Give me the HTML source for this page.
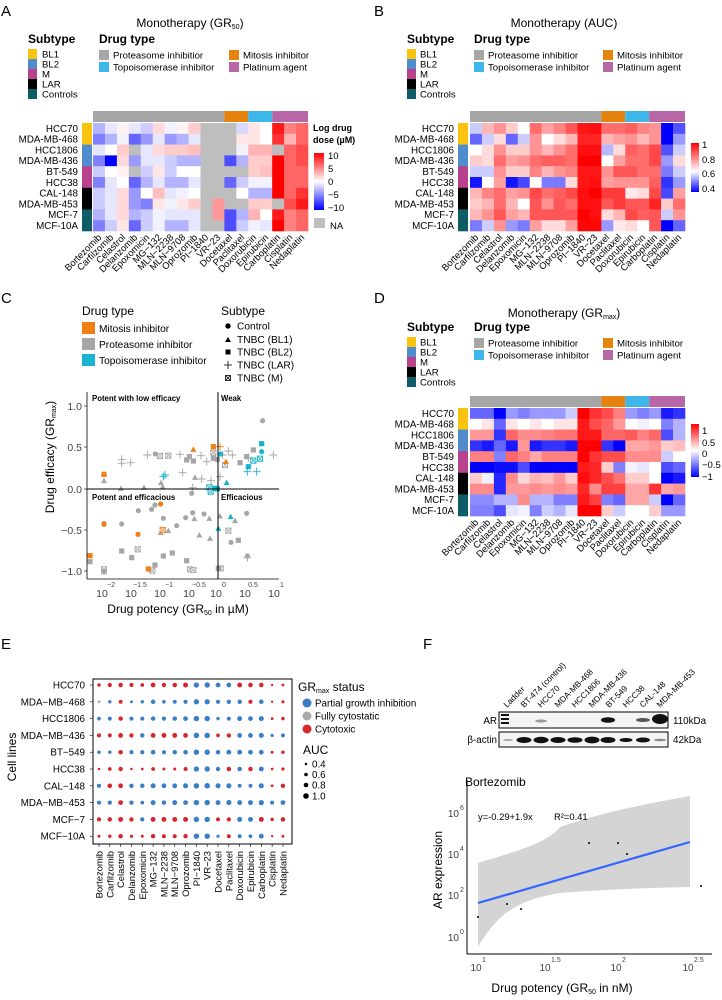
<!DOCTYPE html>
<html><head><meta charset="utf-8"><style>
html,body{margin:0;padding:0;background:#fff;}
svg{display:block;font-family:"Liberation Sans",sans-serif;}
.rl{font-size:9.8px;text-anchor:end;}
.cl{font-size:9.4px;text-anchor:end;}
.lg{font-size:9.6px;}
.bd{font-weight:bold;}
.tt{font-size:12px;}
.hd{font-size:12px;font-weight:bold;}
.cb{font-size:9.5px;}
</style></head><body>
<svg id="s" width="722" height="1000" viewBox="0 0 722 1000" xmlns="http://www.w3.org/2000/svg">
<rect width="722" height="1000" fill="#fff"/>
<text x="1" y="16" font-size="15">A</text>
<text x="374" y="16" font-size="15">B</text>
<text x="1" y="303" font-size="15">C</text>
<text x="374" y="303" font-size="15">D</text>
<text x="1" y="649" font-size="15">E</text>
<text x="423" y="649" font-size="15">F</text>

<text x="190" y="27" class="tt" text-anchor="middle">Monotherapy (GR<tspan font-size="7" dy="2">50</tspan><tspan dy="-2">)</tspan></text>
<text x="28" y="43" class="hd">Subtype</text>
<text x="99" y="43" class="hd">Drug type</text>
<g class="lg">
<rect x="28" y="49" width="9" height="10" fill="#f9c30f"/><text x="42" y="57.5">BL1</text>
<rect x="28" y="59" width="9" height="10" fill="#4f8ccc"/><text x="42" y="67.5">BL2</text>
<rect x="28" y="69" width="9" height="10" fill="#b8428e"/><text x="42" y="77.5">M</text>
<rect x="28" y="79" width="9" height="10" fill="#000"/><text x="42" y="87.5">LAR</text>
<rect x="28" y="89" width="9" height="10" fill="#0e5c66"/><text x="42" y="97.5">Controls</text>
<rect x="99" y="50" width="10" height="10" fill="#a6a6a6"/><text x="113" y="58.5">Proteasome inhibitior</text>
<rect x="99" y="62" width="10" height="10" fill="#3db7e9"/><text x="113" y="70.5">Topoisomerase inhibitor</text>
<rect x="229" y="50" width="10" height="10" fill="#e6820e"/><text x="243" y="58.5">Mitosis inhibitor</text>
<rect x="229" y="62" width="10" height="10" fill="#b766a6"/><text x="243" y="70.5">Platinum agent</text>
</g>
<text x="564" y="27" class="tt" text-anchor="middle">Monotherapy (AUC)</text>
<text x="407" y="43" class="hd">Subtype</text>
<text x="474" y="43" class="hd">Drug type</text>
<g class="lg">
<rect x="407" y="49" width="9" height="10" fill="#f9c30f"/><text x="420" y="57.5">BL1</text>
<rect x="407" y="59" width="9" height="10" fill="#4f8ccc"/><text x="420" y="67.5">BL2</text>
<rect x="407" y="69" width="9" height="10" fill="#b8428e"/><text x="420" y="77.5">M</text>
<rect x="407" y="79" width="9" height="10" fill="#000"/><text x="420" y="87.5">LAR</text>
<rect x="407" y="89" width="9" height="10" fill="#0e5c66"/><text x="420" y="97.5">Controls</text>
<rect x="474" y="50" width="10" height="10" fill="#a6a6a6"/><text x="488" y="58.5">Proteasome inhibitior</text>
<rect x="474" y="62" width="10" height="10" fill="#3db7e9"/><text x="488" y="70.5">Topoisomerase inhibitor</text>
<rect x="603" y="50" width="10" height="10" fill="#e6820e"/><text x="617" y="58.5">Mitosis inhibitor</text>
<rect x="603" y="62" width="10" height="10" fill="#b766a6"/><text x="617" y="70.5">Platinum agent</text>
</g>
<text x="564" y="317" class="tt" text-anchor="middle">Monotherapy (GR<tspan font-size="7" dy="2">max</tspan><tspan dy="-2">)</tspan></text>
<text x="407" y="331" class="hd">Subtype</text>
<text x="474" y="331" class="hd">Drug type</text>
<g class="lg">
<rect x="407" y="337" width="9" height="10" fill="#f9c30f"/><text x="420" y="345.5">BL1</text>
<rect x="407" y="347" width="9" height="10" fill="#4f8ccc"/><text x="420" y="355.5">BL2</text>
<rect x="407" y="357" width="9" height="10" fill="#b8428e"/><text x="420" y="365.5">M</text>
<rect x="407" y="367" width="9" height="10" fill="#000"/><text x="420" y="375.5">LAR</text>
<rect x="407" y="377" width="9" height="10" fill="#0e5c66"/><text x="420" y="385.5">Controls</text>
<rect x="474" y="338" width="10" height="10" fill="#a6a6a6"/><text x="488" y="346.5">Proteasome inhibitior</text>
<rect x="474" y="350" width="10" height="10" fill="#3db7e9"/><text x="488" y="358.5">Topoisomerase inhibitor</text>
<rect x="603" y="338" width="10" height="10" fill="#e6820e"/><text x="617" y="346.5">Mitosis inhibitor</text>
<rect x="603" y="350" width="10" height="10" fill="#b766a6"/><text x="617" y="358.5">Platinum agent</text>
</g>

<g id="cells"></g>

<g class="rl">
<text x="78" y="131.8">HCC70</text><text x="78" y="142.6">MDA-MB-468</text><text x="78" y="153.4">HCC1806</text><text x="78" y="164.2">MDA-MB-436</text><text x="78" y="175">BT-549</text><text x="78" y="185.8">HCC38</text><text x="78" y="196.6">CAL-148</text><text x="78" y="207.4">MDA-MB-453</text><text x="78" y="218.2">MCF-7</text><text x="78" y="229">MCF-10A</text>
<text x="454" y="131.8">HCC70</text><text x="454" y="142.6">MDA-MB-468</text><text x="454" y="153.4">HCC1806</text><text x="454" y="164.2">MDA-MB-436</text><text x="454" y="175">BT-549</text><text x="454" y="185.8">HCC38</text><text x="454" y="196.6">CAL-148</text><text x="454" y="207.4">MDA-MB-453</text><text x="454" y="218.2">MCF-7</text><text x="454" y="229">MCF-10A</text>
<text x="454" y="416.8">HCC70</text><text x="454" y="427.6">MDA-MB-468</text><text x="454" y="438.4">HCC1806</text><text x="454" y="449.2">MDA-MB-436</text><text x="454" y="460">BT-549</text><text x="454" y="470.8">HCC38</text><text x="454" y="481.6">CAL-148</text><text x="454" y="492.4">MDA-MB-453</text><text x="454" y="503.2">MCF-7</text><text x="454" y="514">MCF-10A</text>
</g>
<g class="cl">
<text transform="translate(102,238) rotate(-45)">Bortezomib</text><text transform="translate(114,238) rotate(-45)">Carfilzomib</text><text transform="translate(126,238) rotate(-45)">Celastrol</text><text transform="translate(138,238) rotate(-45)">Delanzomib</text><text transform="translate(150,238) rotate(-45)">Epoxomicin</text><text transform="translate(162,238) rotate(-45)">MG−132</text><text transform="translate(174,238) rotate(-45)">MLN−2238</text><text transform="translate(186,238) rotate(-45)">MLN−9708</text><text transform="translate(198,238) rotate(-45)">Oprozomib</text><text transform="translate(209,238) rotate(-45)">PI−1840</text><text transform="translate(221,238) rotate(-45)">VR−23</text><text transform="translate(233,238) rotate(-45)">Docetaxel</text><text transform="translate(245,238) rotate(-45)">Paclitaxel</text><text transform="translate(257,238) rotate(-45)">Doxorubicin</text><text transform="translate(269,238) rotate(-45)">Epirubicin</text><text transform="translate(281,238) rotate(-45)">Carboplatin</text><text transform="translate(293,238) rotate(-45)">Cisplatin</text><text transform="translate(305,238) rotate(-45)">Nedaplatin</text>
</g>
<g class="cl">
<text transform="translate(479,238) rotate(-45)">Bortezomib</text><text transform="translate(491,238) rotate(-45)">Carfilzomib</text><text transform="translate(503,238) rotate(-45)">Celastrol</text><text transform="translate(515,238) rotate(-45)">Delanzomib</text><text transform="translate(527,238) rotate(-45)">Epoxomicin</text><text transform="translate(539,238) rotate(-45)">MG−132</text><text transform="translate(551,238) rotate(-45)">MLN−2238</text><text transform="translate(563,238) rotate(-45)">MLN−9708</text><text transform="translate(575,238) rotate(-45)">Oprozomib</text><text transform="translate(586,238) rotate(-45)">PI−1840</text><text transform="translate(598,238) rotate(-45)">VR−23</text><text transform="translate(610,238) rotate(-45)">Docetaxel</text><text transform="translate(622,238) rotate(-45)">Paclitaxel</text><text transform="translate(634,238) rotate(-45)">Doxorubicin</text><text transform="translate(646,238) rotate(-45)">Epirubicin</text><text transform="translate(658,238) rotate(-45)">Carboplatin</text><text transform="translate(670,238) rotate(-45)">Cisplatin</text><text transform="translate(682,238) rotate(-45)">Nedaplatin</text>
</g>
<g class="cl">
<text transform="translate(479,523) rotate(-45)">Bortezomib</text><text transform="translate(491,523) rotate(-45)">Carfilzomib</text><text transform="translate(503,523) rotate(-45)">Celastrol</text><text transform="translate(515,523) rotate(-45)">Delanzomib</text><text transform="translate(527,523) rotate(-45)">Epoxomicin</text><text transform="translate(539,523) rotate(-45)">MG−132</text><text transform="translate(551,523) rotate(-45)">MLN−2238</text><text transform="translate(563,523) rotate(-45)">MLN−9708</text><text transform="translate(575,523) rotate(-45)">Oprozomib</text><text transform="translate(586,523) rotate(-45)">PI−1840</text><text transform="translate(598,523) rotate(-45)">VR−23</text><text transform="translate(610,523) rotate(-45)">Docetaxel</text><text transform="translate(622,523) rotate(-45)">Paclitaxel</text><text transform="translate(634,523) rotate(-45)">Doxorubicin</text><text transform="translate(646,523) rotate(-45)">Epirubicin</text><text transform="translate(658,523) rotate(-45)">Carboplatin</text><text transform="translate(670,523) rotate(-45)">Cisplatin</text><text transform="translate(682,523) rotate(-45)">Nedaplatin</text>
</g>

<defs>
<linearGradient id="ga" x1="0" y1="0" x2="0" y2="1"><stop offset="0" stop-color="#ff0000"/><stop offset="0.5" stop-color="#ffffff"/><stop offset="1" stop-color="#0000ff"/></linearGradient>
<linearGradient id="gb" x1="0" y1="0" x2="0" y2="1"><stop offset="0" stop-color="#ff0000"/><stop offset="0.58" stop-color="#ffffff"/><stop offset="1" stop-color="#0000ff"/></linearGradient>
</defs>
<text x="313" y="131" font-size="9" class="bd">Log drug</text>
<text x="313" y="143" font-size="9" class="bd">dose (µM)</text>
<rect x="314" y="153" width="10" height="57" fill="url(#ga)"/>
<g class="cb"><text x="328" y="159">10</text><text x="328" y="172">5</text><text x="328" y="185">0</text><text x="328" y="198">−5</text><text x="328" y="211">−10</text><text x="330" y="229">NA</text></g>
<rect x="314" y="218" width="11" height="10" fill="#bebebe"/>
<rect x="691" y="143" width="8" height="49" fill="url(#gb)"/>
<g class="cb"><text x="702" y="148">1</text><text x="702" y="163">0.8</text><text x="702" y="177">0.6</text><text x="702" y="192">0.4</text></g>
<rect x="691" y="424" width="8" height="53" fill="url(#ga)"/>
<g class="cb"><text x="702" y="434">1</text><text x="702" y="446">0.5</text><text x="702" y="457">0</text><text x="702" y="468">−0.5</text><text x="702" y="480">−1</text></g>

<!-- Panel C -->
<text x="82" y="315" font-size="12">Drug type</text>
<text x="221" y="315" font-size="12">Subtype</text>
<g font-size="10.2">
<rect x="82" y="322" width="13" height="12" fill="#f07f13"/><text x="99" y="332">Mitosis inhibitor</text>
<rect x="82" y="338" width="13" height="12" fill="#a6a6a6"/><text x="99" y="348">Proteasome inhibitor</text>
<rect x="82" y="354" width="13" height="12" fill="#1ab3cf"/><text x="99" y="364">Topoisomerase inhibitor</text>
<circle cx="228" cy="326" r="2.7"/><text x="237" y="329.5">Control</text>
<path d="M225,342 L228,337 L231,342Z"/><text x="237" y="343">TNBC (BL1)</text>
<rect x="225.5" y="349.5" width="5" height="5"/><text x="237" y="355.5">TNBC (BL2)</text>
<path d="M224,365 h8 M228,361 v8" stroke="#000" stroke-width="0.8"/><text x="237" y="368.5">TNBC (LAR)</text>
<g stroke="#000" stroke-width="0.8" fill="none"><rect x="225.5" y="375.5" width="5" height="5"/><path d="M225.5,375.5 L230.5,380.5 M230.5,375.5 L225.5,380.5"/></g><text x="237" y="381.5">TNBC (M)</text>
</g>
<g id="cpts"></g>
<line x1="87" y1="392" x2="87" y2="579" stroke="#000" stroke-width="0.8"/>
<line x1="87" y1="579" x2="279" y2="579" stroke="#000" stroke-width="0.8"/>
<line x1="218" y1="392" x2="218" y2="579" stroke="#000" stroke-width="1"/>
<line x1="87" y1="489" x2="279" y2="489" stroke="#000" stroke-width="1"/>
<g font-size="7.8" class="bd"><text x="92" y="401">Potent with low efficacy</text><text x="221" y="401">Weak</text><text x="92" y="500">Potent and efficacious</text><text x="221" y="500">Efficacious</text></g>
<g font-size="10.5" text-anchor="end" fill="#444"><text x="82" y="410">1.0</text><text x="82" y="451">0.5</text><text x="82" y="493">0.0</text><text x="82" y="534">−0.5</text><text x="82" y="575">−1.0</text></g>
<g stroke="#000" stroke-width="0.6"><line x1="84" x2="87" y1="406" y2="406"/><line x1="84" x2="87" y1="447" y2="447"/><line x1="84" x2="87" y1="489" y2="489"/><line x1="84" x2="87" y1="530" y2="530"/><line x1="84" x2="87" y1="571" y2="571"/></g>
<g font-size="10.5" fill="#444" text-anchor="middle">
<text x="102" y="597">10</text><text x="131" y="597">10</text><text x="160" y="597">10</text><text x="189" y="597">10</text><text x="216" y="597">10</text><text x="245" y="597">10</text><text x="274" y="597">10</text>
</g>
<g font-size="7" fill="#444" text-anchor="middle">
<text x="111" y="587">−2</text><text x="140" y="587">−1.5</text><text x="169" y="587">−1</text><text x="199" y="587">−0.5</text><text x="224" y="587">0</text><text x="253" y="587">0.5</text><text x="282" y="587">1</text>
</g>
<text x="178" y="613" font-size="12" text-anchor="middle">Drug potency (GR<tspan font-size="7" dy="2">50</tspan><tspan dy="-2"> in µM)</tspan></text>
<text transform="translate(54,457) rotate(-90)" font-size="12" text-anchor="middle">Drug efficacy (GR<tspan font-size="7" dy="2">max</tspan><tspan dy="-2">)</tspan></text>

<!-- Panel E -->
<rect x="93" y="679" width="199" height="165" fill="none" stroke="#000" stroke-width="1"/>
<g id="edots"></g>
<g class="rl">
<text x="85" y="688.5">HCC70</text><text x="85" y="705.3">MDA−MB−468</text><text x="85" y="722.1">HCC1806</text><text x="85" y="738.9">MDA−MB−436</text><text x="85" y="755.7">BT−549</text><text x="85" y="772.5">HCC38</text><text x="85" y="789.3">CAL−148</text><text x="85" y="806.1">MDA−MB−453</text><text x="85" y="822.9">MCF−7</text><text x="85" y="839.7">MCF−10A</text>
</g>
<text transform="translate(16,757) rotate(-90)" font-size="12" text-anchor="middle">Cell lines</text>
<g class="cl">
<text transform="translate(102.5,851) rotate(-90)">Bortezomib</text><text transform="translate(113.3,851) rotate(-90)">Carfilzomib</text><text transform="translate(124.1,851) rotate(-90)">Celastrol</text><text transform="translate(135,851) rotate(-90)">Delanzomib</text><text transform="translate(145.8,851) rotate(-90)">Epoxomicin</text><text transform="translate(156.6,851) rotate(-90)">MG−132</text><text transform="translate(167.4,851) rotate(-90)">MLN−2238</text><text transform="translate(178.2,851) rotate(-90)">MLN−9708</text><text transform="translate(189.1,851) rotate(-90)">Oprozomib</text><text transform="translate(199.9,851) rotate(-90)">PI−1840</text><text transform="translate(210.7,851) rotate(-90)">VR−23</text><text transform="translate(221.5,851) rotate(-90)">Docetaxel</text><text transform="translate(232.3,851) rotate(-90)">Paclitaxel</text><text transform="translate(243.2,851) rotate(-90)">Doxorubicin</text><text transform="translate(254,851) rotate(-90)">Epirubicin</text><text transform="translate(264.8,851) rotate(-90)">Carboplatin</text><text transform="translate(275.6,851) rotate(-90)">Cisplatin</text><text transform="translate(286.5,851) rotate(-90)">Nedaplatin</text>
</g>
<text x="298" y="691" font-size="12">GR<tspan font-size="7" dy="2">max</tspan><tspan dy="-2"> status</tspan></text>
<g font-size="9.8">
<circle cx="307" cy="703" r="4.5" fill="#3a7dc9"/><text x="315" y="706.5">Partial growth inhibition</text>
<circle cx="307" cy="716" r="4.5" fill="#aaaaaa"/><text x="315" y="719.5">Fully cytostatic</text>
<circle cx="307" cy="729" r="4.5" fill="#d7262b"/><text x="315" y="732.5">Cytotoxic</text>
</g>
<text x="303" y="754" font-size="12">AUC</text>
<g font-size="9.8">
<circle cx="306" cy="764" r="1.2"/><text x="312" y="767.5">0.4</text>
<circle cx="306" cy="774.5" r="1.8"/><text x="312" y="778">0.6</text>
<circle cx="306" cy="785" r="2.3"/><text x="312" y="788.5">0.8</text>
<circle cx="306" cy="796" r="2.8"/><text x="312" y="799.5">1.0</text>
</g>

<!-- Panel F western -->
<g font-size="8.3">
<text transform="translate(507,708) rotate(-45)">Ladder</text>
<text transform="translate(524,708) rotate(-45)">BT-474 (control)</text>
<text transform="translate(541,708) rotate(-45)">HCC70</text>
<text transform="translate(558,708) rotate(-45)">MDA-MB-468</text>
<text transform="translate(575,708) rotate(-45)">HCC1806</text>
<text transform="translate(592,708) rotate(-45)">MDA-MB-436</text>
<text transform="translate(609,708) rotate(-45)">BT-549</text>
<text transform="translate(626,708) rotate(-45)">HCC38</text>
<text transform="translate(643,708) rotate(-45)">CAL-148</text>
<text transform="translate(660,708) rotate(-45)">MDA-MB-453</text>
</g>
<rect x="499" y="712" width="169" height="16" fill="#f4f4f4" stroke="#000" stroke-width="1"/>
<rect x="499" y="732" width="169" height="15" fill="#f4f4f4" stroke="#000" stroke-width="1"/>
<g fill="#111">
<rect x="501" y="714" width="8" height="2"/><rect x="501" y="718" width="8" height="2"/><rect x="501" y="722" width="8" height="2"/>
<ellipse cx="541" cy="721" rx="6" ry="1.5" fill="#999"/>
<ellipse cx="608" cy="720" rx="7" ry="2.8"/>
<ellipse cx="643" cy="720" rx="7" ry="2" fill="#555"/>
<ellipse cx="660" cy="719" rx="8" ry="5"/>
<ellipse cx="508" cy="740" rx="5" ry="1" fill="#aaa"/>
<ellipse cx="524" cy="740" rx="7.5" ry="3"/><ellipse cx="541" cy="740" rx="7.5" ry="3.2"/><ellipse cx="558" cy="740" rx="7.5" ry="3"/><ellipse cx="575" cy="740" rx="7.5" ry="2.8"/><ellipse cx="592" cy="740" rx="7.5" ry="3.4"/><ellipse cx="608" cy="740" rx="7.5" ry="3"/><ellipse cx="626" cy="740" rx="6.5" ry="2"/><ellipse cx="643" cy="740" rx="7" ry="2.5"/><ellipse cx="660" cy="740" rx="6" ry="1.3" fill="#888"/>
</g>
<g font-size="9.8"><text x="497" y="724" text-anchor="end">AR</text><text x="497" y="743" text-anchor="end">β-actin</text><text x="673" y="724">110kDa</text><text x="673" y="743">42kDa</text></g>

<text x="465" y="786" font-size="12">Bortezomib</text>
<path d="M478,863 C520,850 547,843 560,827 C600,813 640,805 690,796 L690,887 C640,888 600,890 560,893 C520,900 500,910 478,947 Z" fill="#d4d4d4"/>
<line x1="478" y1="903" x2="690" y2="842" stroke="#3366ff" stroke-width="2.2"/>
<g fill="#000"><circle cx="478" cy="917" r="1"/><circle cx="507" cy="904" r="1"/><circle cx="521" cy="909" r="1"/><circle cx="589" cy="843" r="1"/><circle cx="618" cy="843" r="1"/><circle cx="627" cy="854" r="1"/><circle cx="701" cy="886" r="1"/></g>
<line x1="467" y1="780" x2="467" y2="954" stroke="#000" stroke-width="1"/>
<line x1="467" y1="954" x2="712" y2="954" stroke="#000" stroke-width="1"/>
<g font-size="10" fill="#444" text-anchor="end"><text x="459" y="817">10</text><text x="459" y="858">10</text><text x="459" y="899">10</text><text x="459" y="941">10</text></g>
<g font-size="7" fill="#444"><text x="460" y="810">6</text><text x="460" y="851">4</text><text x="460" y="892">2</text><text x="460" y="934">0</text></g>
<g font-size="10" fill="#444" text-anchor="middle"><text x="476" y="971">10</text><text x="545" y="971">10</text><text x="616" y="971">10</text><text x="688" y="971">10</text></g>
<g font-size="7" fill="#444"><text x="482" y="962">1</text><text x="551" y="962">1.5</text><text x="622" y="962">2</text><text x="694" y="962">2.5</text></g>
<text x="478" y="820" font-size="9.4">y=-0.29+1.9x</text><text x="554" y="820" font-size="9.4">R²=0.41</text>
<text x="562" y="992" font-size="12" text-anchor="middle">Drug potency (GR<tspan font-size="7" dy="2">50</tspan><tspan dy="-2"> in nM)</tspan></text>
<text transform="translate(442,870) rotate(-90)" font-size="12" text-anchor="middle">AR expression</text>
</svg>
<script>
(function(){
var NS="http://www.w3.org/2000/svg";
function el(p,t,a){var e=document.createElementNS(NS,t);for(var k in a)e.setAttribute(k,a[k]);p.appendChild(e);return e;}
function mix(c1,c2,t){return "rgb("+c1.map(function(v,i){return Math.round(v+(c2[i]-v)*t)}).join(",")+")";}
var B=[0,0,255],W=[255,255,255],R=[255,0,0];
function col(v,lo,mid,hi){if(v===null)return "#bebebe";if(v<=mid){var t=(v-lo)/(mid-lo);t=Math.max(0,Math.min(1,t));return mix(B,W,t);}var t=(v-mid)/(hi-mid);t=Math.max(0,Math.min(1,t));return mix(W,R,t);}
var N=null;
var A=[[-3,-1,.5,-1,-2,1.5,-.5,.5,2,N,N,N,-1.5,1,0,9,5,6],
[-5,-3,-.5,-6,-4,-1,-4,-3,-1,N,N,N,1,1,0,8,3,6],
[-1,0,2,N,-1,1.5,2,2,2.5,N,N,N,-.5,3,3,N,6,7],
[-5,-10,1.5,-4,-1,-1,-2,-3,-3,N,N,-7,-3,2,2,10,6,7],
[-2,0,.5,N,-2,1,-2,0,0,N,N,N,N,2,2.5,10,6,6],
[-5,-1,0,-6,-3,-1,-3,-3,-1,N,N,-6,-2,-.5,-.5,10,6,6],
[-2,-1,1.5,-4,0,2.5,-1,-.5,0,N,N,N,0,-3,-3,10,6,8],
[-2,-1,1.5,-4,-5,1,-.5,1,2,N,4,N,N,2,2,N,7,9],
[-3,-1,1.5,-3,-2,-.5,-1,-1,-1,N,4,-7,-3,3,0,9,5,6],
[-5,-2,1,-6,-2,-.5,-3,-3,-1,N,N,-7,-2,-.5,-1,10,5,6]];
var Bm=[[.6,.75,.8,.72,.65,.85,.78,.82,.88,.97,.98,.85,.85,.87,.82,.8,.4,.48],
[.5,.6,.7,.5,.6,.8,.65,.7,.75,.95,.95,.75,.78,.8,.75,.8,.4,.55],
[.65,.7,.8,.72,.72,.8,.75,.8,.85,.98,.98,.58,.7,.87,.85,.9,.48,.6],
[.72,.7,.85,.78,.8,.85,.87,.87,.85,1,1,.65,.78,.85,.85,.9,.55,.7],
[.6,.6,.8,.72,.72,.82,.75,.8,.82,.97,.97,.8,.88,.88,.85,.85,.52,.6],
[.42,.65,.78,.42,.47,.65,.52,.52,.7,.97,.98,.78,.8,.8,.8,.87,.45,.55],
[.75,.82,.85,.78,.8,.9,.85,.87,.9,.98,1,.92,.92,.68,.7,.9,.47,.78],
[.72,.75,.85,.75,.65,.88,.8,.88,.85,.98,.98,.88,.92,.88,.88,.95,.72,.85],
[.75,.8,.88,.78,.75,.88,.88,.88,.88,1,.98,.7,.75,.9,.87,.88,.6,.8],
[.52,.6,.8,.55,.52,.78,.7,.7,.78,.99,.99,.55,.68,.7,.65,.88,.4,.5]];
var D=[[-.6,-.6,-1,-.4,-.5,-.4,-.4,-.4,-.2,1,.8,.7,.5,-.4,-.5,-.4,-.9,-.8],
[0,.1,-.6,.1,0,.1,0,.1,.1,.9,.7,.6,.4,0,-.05,0,-.5,-.3],
[.4,.4,-.8,.6,.45,.45,.5,.55,.55,.9,.9,.6,.6,.65,.5,.6,-.7,-.3],
[-.8,-.9,-.6,-.9,.4,-.9,-.8,-.8,-.9,1,1,-.8,-1,.35,.35,.4,.2,.25],
[.5,.5,-.5,.6,.5,.35,.5,.5,.5,1,.8,.7,.7,.45,.45,.45,-.2,0],
[-1,-1,-.95,-.95,-.7,-1,-1,-1,-1,.9,.85,.2,-.5,-.05,-.1,0,-.7,-.6],
[.2,-.05,-.85,.45,.15,.3,.25,.4,.2,.95,.85,.7,.55,.2,.2,0,-1,-.9],
[.45,.45,-.85,.4,.4,.45,.4,.45,.4,.85,.45,.75,.75,.35,.35,.8,.35,.4],
[-.45,-.45,-.3,-.3,.45,-.3,-.3,-.5,-.5,.9,.75,-.5,-.6,.35,.35,-.2,-1,-.6],
[-.5,-.5,-.7,-.1,-.05,-.5,-.2,-.3,-.1,1,1,.2,-.2,0,0,.2,-.4,-.4]];
var sub=["#f9c30f","#f9c30f","#4f8ccc","#4f8ccc","#b8428e","#b8428e","#000","#000","#0e5c66","#0e5c66"];
var g=document.getElementById("cells");
var cw=215/18,rh=10.8;
function heat(M,x0,y0,sx,f){
 for(var i=0;i<10;i++)for(var j=0;j<18;j++)el(g,"rect",{x:x0+j*cw,y:y0+i*rh,width:cw+0.3,height:rh+0.3,fill:f(M[i][j])});
 for(var i=0;i<10;i++)el(g,"rect",{x:sx,y:y0+i*rh,width:10,height:rh+0.3,fill:sub[i]});
 var ay=y0-12;
 el(g,"rect",{x:x0,y:ay,width:11*cw,height:11,fill:"#a6a6a6"});
 el(g,"rect",{x:x0+11*cw,y:ay,width:2*cw,height:11,fill:"#e6820e"});
 el(g,"rect",{x:x0+13*cw,y:ay,width:2*cw,height:11,fill:"#3db7e9"});
 el(g,"rect",{x:x0+15*cw,y:ay,width:3*cw,height:11,fill:"#b766a6"});
}
heat(A,93,123,82,function(v){return col(v,-10,0,10)});
heat(Bm,470,123,458,function(v){return col(v,.4,.65,1)});
heat(D,470,408,458,function(v){return col(v,-1,0,1)});
var E=["RRRRRRRRRBBBBRRRRR","GBRBBBBBBBBBBBRBRR","BBRBBBBBBBBBBBBBRR","RRRRBRRRRBBRRBBBBB","BBRBBBBBBBBBBBBBRR","RRRRRRRRRBBBRBRBRR","BRRBBBBBBBBBBBBBRR","BBRBBBBBBBBBBBBBBB","RRRRBRRRRBBRRBBRRR","RRRRRRRRRBBBRBBBRR"];
var cm={R:"#d7262b",B:"#3a7dc9",G:"#aaaaaa"};
var ge=document.getElementById("edots");
for(var i=0;i<10;i++){var y=685+i*16.8;el(ge,"line",{x1:90,x2:93,y1:y,y2:y,stroke:"#000","stroke-width":0.6});
 for(var j=0;j<18;j++){var a=Bm[i][j];el(ge,"circle",{cx:99+j*10.82,cy:y,r:1.2+(a-.4)*2.6,fill:cm[E[i][j]]});}}
for(var j=0;j<18;j++){var x=99+j*10.82;el(ge,"line",{x1:x,x2:x,y1:844,y2:847,stroke:"#000","stroke-width":0.6});}
var P=[[312,553,"s","o"],[312,572,"t","g"],[270,797,"s","o"],[270,815,"s","g"],[312,700,"c","g"],[312,703,"c","o"],[312,838,"x","g"],[312,845,"s","g"],
[363,595,"t","g"],[432,592,"t","g"],[483,578,"t","g"],[488,590,"t","g"],
[365,508,"p","g"],[365,520,"p","g"],[392,518,"p","g"],[442,495,"p","g"],[466,492,"c","g"],[480,498,"x","g"],[505,497,"x","g"],[540,493,"p","g"],[560,510,"s","g"],[568,500,"s","g"],[580,513,"s","g"],[603,497,"p","g"],[620,515,"p","g"],[640,488,"x","g"],[640,505,"s","g"],[652,508,"s","g"],[668,495,"p","g"],[675,525,"x","g"],[685,483,"p","g"],[697,495,"p","g"],[720,518,"s","g"],[740,500,"s","g"],[745,502,"p","g"],[760,480,"s","g"],[788,392,"c","g"],[820,495,"p","g"],
[548,548,"p","g"],[578,593,"p","g"],[605,567,"p","g"],[633,572,"p","g"],[660,560,"p","g"],[585,562,"t","g"],[575,610,"c","g"],
[365,702,"c","g"],[415,662,"c","g"],[455,658,"c","g"],[465,645,"c","g"],[490,685,"c","g"],[530,707,"c","g"],[578,668,"c","g"],[583,686,"t","g"],[557,683,"c","g"],[612,672,"c","g"],[628,685,"t","g"],[660,678,"t","g"],[705,692,"t","g"],[740,670,"c","g"],[685,722,"x","g"],[693,757,"c","g"],[715,751,"s","g"],[742,798,"c","g"],[742,803,"p","g"],[598,735,"t","g"],[630,745,"t","g"],[505,722,"t","g"],[482,728,"t","g"],
[365,783,"s","g"],[395,803,"s","g"],[413,778,"x","g"],[457,842,"x","g"],[465,825,"s","g"],[490,798,"s","g"],[517,789,"s","g"],[560,812,"s","g"],[570,838,"x","g"],[580,840,"x","g"],[662,835,"x","g"],[655,835,"s","g"],
[580,478,"t","o"],[640,470,"s","o"],[660,470,"p","o"],[678,515,"t","o"],[482,642,"c","o"],[414,733,"c","o"],[488,720,"x","o"],[445,837,"s","o"],
[490,560,"p","b"],[495,555,"p","b"],[662,492,"c","b"],[680,578,"t","b"],[628,592,"x","b"],[632,605,"x","b"],[645,595,"s","b"],[652,597,"s","b"],[742,545,"p","b"],[745,530,"s","b"],[760,512,"x","b"],[770,545,"p","b"],[780,506,"x","b"],[785,461,"s","b"],[785,485,"c","b"],[692,680,"t","b"],[655,715,"t","b"]];
var pc={o:"#f07f13",g:"#a6a6a6",b:"#1ab3cf"};
var gc=document.getElementById("cpts");
P.forEach(function(p){var x=p[0]/3,y=290+p[1]/3,c=pc[p[3]],s=2.6;
 if(p[2]=="c")el(gc,"circle",{cx:x,cy:y,r:2.6,fill:c});
 else if(p[2]=="s")el(gc,"rect",{x:x-s,y:y-s,width:2*s,height:2*s,fill:c});
 else if(p[2]=="t")el(gc,"path",{d:"M"+(x-3)+","+(y+2.5)+"L"+x+","+(y-3)+"L"+(x+3)+","+(y+2.5)+"Z",fill:c});
 else if(p[2]=="p")el(gc,"path",{d:"M"+(x-4)+","+y+"h8M"+x+","+(y-4)+"v8",stroke:c,"stroke-width":0.9,fill:"none"});
 else {el(gc,"rect",{x:x-s,y:y-s,width:2*s,height:2*s,fill:"#fff",stroke:c,"stroke-width":0.9});el(gc,"path",{d:"M"+(x-s)+","+(y-s)+"L"+(x+s)+","+(y+s)+"M"+(x+s)+","+(y-s)+"L"+(x-s)+","+(y+s),stroke:c,"stroke-width":0.8});}
});
})();
</script>
</body></html>
